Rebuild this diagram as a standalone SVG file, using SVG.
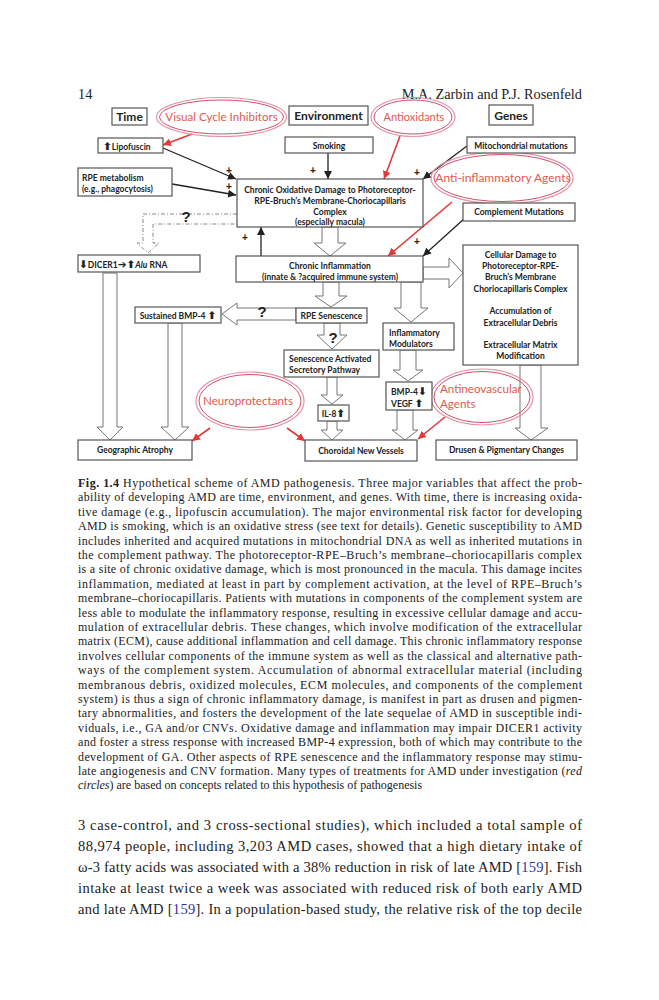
<svg xmlns="http://www.w3.org/2000/svg" width="659" height="1000" viewBox="0 0 659 1000">
<style>
.bg{fill:#fff}
.box{fill:#fff;stroke:#555;stroke-width:1.2}
.blk{fill:#fff;stroke:#777;stroke-width:1}
.dash{fill:none;stroke:#888;stroke-width:1;stroke-dasharray:4 2 1 2}
.t{font-family:Lato,"Liberation Sans",sans-serif;font-weight:bold;font-size:8.5px;fill:#222}
.tc{text-anchor:middle}
.ar{font-family:"DejaVu Sans",sans-serif;font-weight:bold;font-size:10.5px}
.hd{font-family:Lato,"Liberation Sans",sans-serif;font-weight:bold;font-size:12px;fill:#222;text-anchor:middle}
.el1{fill:none;stroke:#e690a6;stroke-width:1.2}
.el2{fill:none;stroke:#d24d6c;stroke-width:1}
.et{font-family:Lato,"Liberation Sans",sans-serif;font-size:11.6px;fill:#e05a50}
.ln{stroke:#222;stroke-width:1.3;fill:none}
.rl{stroke:#e23a3a;stroke-width:1.6;fill:none}
.pl{font-family:"Liberation Sans",sans-serif;font-weight:bold;font-size:10px;fill:#222;text-anchor:middle}
.q{font-family:"Liberation Sans",sans-serif;font-weight:bold;font-size:15px;fill:#222;text-anchor:middle}
.cap{font-family:"Liberation Serif",serif;font-size:12px;fill:#222}
.body{font-family:"Liberation Serif",serif;font-size:14.5px;fill:#222}
.head{font-family:"Liberation Serif",serif;font-size:14.3px;fill:#222}
</style>
<defs>
<marker id="ab" markerUnits="userSpaceOnUse" markerWidth="9" markerHeight="9" refX="8" refY="4.5" orient="auto"><path d="M0,0.5 L8,4.5 L0,8.5 Z" fill="#222"/></marker>
<marker id="ar" markerUnits="userSpaceOnUse" markerWidth="9" markerHeight="9" refX="8" refY="4.5" orient="auto"><path d="M0,0.5 L8,4.5 L0,8.5 Z" fill="#e23a3a"/></marker>
</defs>
<rect class="bg" x="0" y="0" width="659" height="1000"/>

<text class="head" x="78" y="99">14</text>
<text class="head" x="582" y="99" text-anchor="end">M.A. Zarbin and P.J. Rosenfeld</text>

<g id="connectors">
  <polygon class="blk" points="322,227 338,227 338,243 346,243 330,256 314,243 322,243"/>
  <polygon class="blk" points="323,282 339,282 339,296 347,296 331,307 315,296 323,296"/>
  <polygon class="blk" points="401,282 421,282 421,308 428,308 411,322 394,308 401,308"/>
  <polygon class="blk" points="423,267 449,267 449,258 463,273 449,288 449,279 423,279"/>
  <polygon class="blk" points="296,308 237,308 237,303 222,314 237,325 237,320 296,320"/>
  <polygon class="blk" points="324,323 340,323 340,335 347,335 332,349 317,335 324,335"/>
  <polygon class="blk" points="327,377 337,377 337,395 343,395 332,404 321,395 327,395"/>
  <polygon class="blk" points="327,421 337,421 337,430 343,430 332,440 321,430 327,430"/>
  <polygon class="blk" points="400,350 416,350 416,370 423,370 408,381 393,370 400,370"/>
  <polygon class="blk" points="397,410 413,410 413,430 418,430 405,440 392,430 397,430"/>
  <polygon class="blk" points="520,365 541,365 541,428 548,428 531,440 515,428 520,428"/>
  <polygon class="blk" points="103,273 117,273 117,427 123,427 110,440 97,427 103,427"/>
  <polygon class="blk" points="168,323 182,323 182,427 189,427 175,440 161,427 168,427"/>
  <path class="dash" d="M237,214 L143,214 L143,243 L137,243 L148,253 L159,243 L153,243 L153,224 L237,224"/>
  <line class="ln" x1="163" y1="148" x2="236" y2="179" marker-end="url(#ab)"/>
  <line class="ln" x1="328" y1="153" x2="328" y2="179" marker-end="url(#ab)"/>
  <line class="ln" x1="172" y1="184" x2="236" y2="195" marker-end="url(#ab)"/>
  <line class="ln" x1="467" y1="146" x2="423" y2="179" marker-end="url(#ab)"/>
  <line class="ln" x1="261" y1="256" x2="261" y2="227" marker-end="url(#ab)"/>
  <line class="ln" x1="465" y1="218" x2="423" y2="256" marker-end="url(#ab)"/>
  <line class="rl" x1="192" y1="134" x2="163" y2="145" marker-end="url(#ar)"/>
  <line class="rl" x1="400" y1="136" x2="384" y2="179" marker-end="url(#ar)"/>
  <line class="rl" x1="452" y1="202" x2="388" y2="256" marker-end="url(#ar)"/>
  <line class="rl" x1="210" y1="428" x2="192" y2="441" marker-end="url(#ar)"/>
  <line class="rl" x1="287" y1="428" x2="305" y2="441" marker-end="url(#ar)"/>
  <line class="rl" x1="445" y1="417" x2="418" y2="439" marker-end="url(#ar)"/>
  <text class="pl" x="229" y="174">+</text>
  <text class="pl" x="229" y="190">+</text>
  <text class="pl" x="313" y="174">+</text>
  <text class="pl" x="417" y="176">+</text>
  <text class="pl" x="245" y="241">+</text>
  <text class="pl" x="417" y="245">+</text>
  <text class="q" x="186" y="222">?</text>
  <text class="q" x="262" y="317">?</text>
  <text class="q" x="333" y="343">?</text>
</g>

<g id="time"><rect class="box" x="112" y="108" width="35" height="17"/><text class="hd" x="129.5" y="121">Time</text></g>
<g id="environment"><rect class="box" x="289" y="106" width="79" height="19"/><text class="hd" x="328.5" y="120">Environment</text></g>
<g id="genes"><rect class="box" x="489" y="105" width="44" height="20"/><text class="hd" x="511" y="120">Genes</text></g>

<g id="vci"><ellipse class="el1" cx="221.5" cy="117" rx="65" ry="19.5"/><ellipse class="el2" cx="221.5" cy="117" rx="62" ry="17"/><text class="et" x="221.5" y="121" text-anchor="middle">Visual Cycle Inhibitors</text></g>
<g id="antioxidants"><ellipse class="el1" cx="413" cy="117" rx="42" ry="19.5"/><ellipse class="el2" cx="413" cy="117" rx="39" ry="17"/><text class="et" x="414" y="121" text-anchor="middle" style="font-size:11px">Antioxidants</text></g>
<g id="antiinflammatory"><ellipse class="el1" cx="502" cy="178" rx="71" ry="26"/><ellipse class="el2" cx="502" cy="178" rx="68" ry="23.5"/><text class="et" x="503" y="182" text-anchor="middle" style="font-size:12px">Anti-inflammatory Agents</text></g>
<g id="neuroprotectants"><ellipse class="el1" cx="250" cy="401" rx="54" ry="29"/><ellipse class="el2" cx="250" cy="401" rx="51" ry="26.5"/><text class="et" x="248" y="405" text-anchor="middle">Neuroprotectants</text></g>
<g id="antineovascular"><ellipse class="el1" cx="482" cy="397" rx="51" ry="28"/><ellipse class="el2" cx="482" cy="397" rx="48" ry="25.5"/><text class="et" x="440" y="393">Antineovascular</text><text class="et" x="440" y="408">Agents</text></g>

<g id="lipofuscin"><rect class="box" x="98" y="138" width="65" height="15"/><text class="t" x="103" y="149.5"><tspan class="ar">⬆</tspan>Lipofuscin</text></g>
<g id="smoking"><rect class="box" x="285" y="137" width="88" height="16"/><text class="t tc" x="329" y="148.5">Smoking</text></g>
<g id="mito"><rect class="box" x="467" y="137" width="108" height="16"/><text class="t tc" x="521" y="148.5">Mitochondrial mutations</text></g>
<g id="rpemetab"><rect class="box" x="78" y="168" width="94" height="28"/><text class="t" x="82" y="180.5">RPE metabolism</text><text class="t" x="82" y="192">(e.g., phagocytosis)</text></g>
<g id="complement"><rect class="box" x="463" y="203" width="112" height="18"/><text class="t tc" x="519" y="215">Complement Mutations</text></g>
<g id="oxdamage"><rect class="box" x="237" y="179" width="186" height="48"/>
  <text class="t tc" x="330" y="193">Chronic Oxidative Damage to Photoreceptor-</text>
  <text class="t tc" x="330" y="204">RPE-Bruch’s Membrane-Choriocapillaris</text>
  <text class="t tc" x="330" y="215">Complex</text>
  <text class="t tc" x="330" y="225">(especially macula)</text></g>
<g id="dicer"><rect class="box" x="78" y="255" width="122" height="17"/><text class="t" x="79" y="267.5"><tspan class="ar">⬇</tspan>DICER1<tspan class="ar">➔⬆</tspan><tspan font-style="italic">Alu</tspan> RNA</text></g>
<g id="inflammation"><rect class="box" x="236" y="256" width="187" height="26"/><text class="t tc" x="330" y="269">Chronic Inflammation</text><text class="t tc" x="330" y="280">(innate &amp; ?acquired immune system)</text></g>
<g id="cellular"><rect class="box" x="463" y="245" width="115" height="120"/>
  <text class="t tc" x="520.5" y="258">Cellular Damage to</text>
  <text class="t tc" x="520.5" y="269">Photoreceptor-RPE-</text>
  <text class="t tc" x="520.5" y="280">Bruch’s Membrane</text>
  <text class="t tc" x="520.5" y="292">Choriocapillaris Complex</text>
  <text class="t tc" x="520.5" y="313.5">Accumulation of</text>
  <text class="t tc" x="520.5" y="325.5">Extracellular Debris</text>
  <text class="t tc" x="520.5" y="348">Extracellular Matrix</text>
  <text class="t tc" x="520.5" y="359">Modification</text></g>
<g id="sustained"><rect class="box" x="135" y="307" width="86" height="16"/><text class="t tc" x="178" y="319">Sustained BMP-4 <tspan class="ar">⬆</tspan></text></g>
<g id="senescence"><rect class="box" x="296" y="308" width="71" height="15"/><text class="t tc" x="331.5" y="318.5">RPE Senescence</text></g>
<g id="sasp"><rect class="box" x="284" y="350" width="95" height="27"/><text class="t" x="289" y="362">Senescence Activated</text><text class="t" x="289" y="373">Secretory Pathway</text></g>
<g id="modulators"><rect class="box" x="383" y="323" width="71" height="27"/><text class="t" x="389" y="336">Inflammatory</text><text class="t" x="389" y="347">Modulators</text></g>
<g id="bmpvegf"><rect class="box" x="386" y="382" width="46" height="28"/><text class="t" x="391" y="395">BMP-4<tspan class="ar">⬇</tspan></text><text class="t" x="391" y="406.5">VEGF <tspan class="ar">⬆</tspan></text></g>
<g id="il8"><rect class="box" x="318" y="405" width="31" height="16"/><text class="t tc" x="333.5" y="416.5">IL-8<tspan class="ar">⬆</tspan></text></g>
<g id="ga"><rect class="box" x="78" y="440" width="114" height="20"/><text class="t tc" x="135" y="453">Geographic Atrophy</text></g>
<g id="cnv"><rect class="box" x="305" y="440" width="112" height="21"/><text class="t tc" x="361" y="453.5">Choroidal New Vessels</text></g>
<g id="drusen"><rect class="box" x="436" y="440" width="141" height="20"/><text class="t tc" x="506.5" y="453">Drusen &amp; Pigmentary Changes</text></g>

<g id="caption">
<text class="cap" x="78" y="487" textLength="504" lengthAdjust="spacing"><tspan font-weight="bold">Fig. 1.4</tspan>  Hypothetical scheme of AMD pathogenesis. Three major variables that affect the prob-</text>
<text class="cap" x="78" y="501.4" textLength="504" lengthAdjust="spacing">ability of developing AMD are time, environment, and genes. With time, there is increasing oxida-</text>
<text class="cap" x="78" y="515.8" textLength="504" lengthAdjust="spacing">tive damage (e.g., lipofuscin accumulation). The major environmental risk factor for developing</text>
<text class="cap" x="78" y="530.2" textLength="504" lengthAdjust="spacing">AMD is smoking, which is an oxidative stress (see text for details). Genetic susceptibility to AMD</text>
<text class="cap" x="78" y="544.6" textLength="504" lengthAdjust="spacing">includes inherited and acquired mutations in mitochondrial DNA as well as inherited mutations in</text>
<text class="cap" x="78" y="559" textLength="504" lengthAdjust="spacing">the complement pathway. The photoreceptor-RPE–Bruch’s membrane–choriocapillaris complex</text>
<text class="cap" x="78" y="573.4" textLength="504" lengthAdjust="spacing">is a site of chronic oxidative damage, which is most pronounced in the macula. This damage incites</text>
<text class="cap" x="78" y="587.8" textLength="504" lengthAdjust="spacing">inflammation, mediated at least in part by complement activation, at the level of RPE–Bruch’s</text>
<text class="cap" x="78" y="602.2" textLength="504" lengthAdjust="spacing">membrane–choriocapillaris. Patients with mutations in components of the complement system are</text>
<text class="cap" x="78" y="616.6" textLength="504" lengthAdjust="spacing">less able to modulate the inflammatory response, resulting in excessive cellular damage and accu-</text>
<text class="cap" x="78" y="631" textLength="504" lengthAdjust="spacing">mulation of extracellular debris. These changes, which involve modification of the extracellular</text>
<text class="cap" x="78" y="645.4" textLength="504" lengthAdjust="spacing">matrix (ECM), cause additional inflammation and cell damage. This chronic inflammatory response</text>
<text class="cap" x="78" y="659.8" textLength="504" lengthAdjust="spacing">involves cellular components of the immune system as well as the classical and alternative path-</text>
<text class="cap" x="78" y="674.2" textLength="504" lengthAdjust="spacing">ways of the complement system. Accumulation of abnormal extracellular material (including</text>
<text class="cap" x="78" y="688.6" textLength="504" lengthAdjust="spacing">membranous debris, oxidized molecules, ECM molecules, and components of the complement</text>
<text class="cap" x="78" y="703" textLength="504" lengthAdjust="spacing">system) is thus a sign of chronic inflammatory damage, is manifest in part as drusen and pigmen-</text>
<text class="cap" x="78" y="717.4" textLength="504" lengthAdjust="spacing">tary abnormalities, and fosters the development of the late sequelae of AMD in susceptible indi-</text>
<text class="cap" x="78" y="731.8" textLength="504" lengthAdjust="spacing">viduals, i.e., GA and/or CNVs. Oxidative damage and inflammation may impair DICER1 activity</text>
<text class="cap" x="78" y="746.2" textLength="504" lengthAdjust="spacing">and foster a stress response with increased BMP-4 expression, both of which may contribute to the</text>
<text class="cap" x="78" y="760.6" textLength="504" lengthAdjust="spacing">development of GA. Other aspects of RPE senescence and the inflammatory response may stimu-</text>
<text class="cap" x="78" y="775" textLength="504" lengthAdjust="spacing">late angiogenesis and CNV formation. Many types of treatments for AMD under investigation (<tspan font-style="italic">red</tspan></text>
<text class="cap" x="78" y="789.4"><tspan font-style="italic">circles</tspan>) are based on concepts related to this hypothesis of pathogenesis</text>
</g>

<g id="bodytext">
<text class="body" x="78" y="830" textLength="504" lengthAdjust="spacing">3 case-control, and 3 cross-sectional studies), which included a total sample of</text>
<text class="body" x="78" y="851" textLength="504" lengthAdjust="spacing">88,974 people, including 3,203 AMD cases, showed that a high dietary intake of</text>
<text class="body" x="78" y="872" textLength="504" lengthAdjust="spacing">ω-3 fatty acids was associated with a 38% reduction in risk of late AMD [<tspan fill="#33339a">159</tspan>]. Fish</text>
<text class="body" x="78" y="893" textLength="504" lengthAdjust="spacing">intake at least twice a week was associated with reduced risk of both early AMD</text>
<text class="body" x="78" y="914" textLength="504" lengthAdjust="spacing">and late AMD [<tspan fill="#33339a">159</tspan>]. In a population-based study, the relative risk of the top decile</text>
</g>
</svg>
